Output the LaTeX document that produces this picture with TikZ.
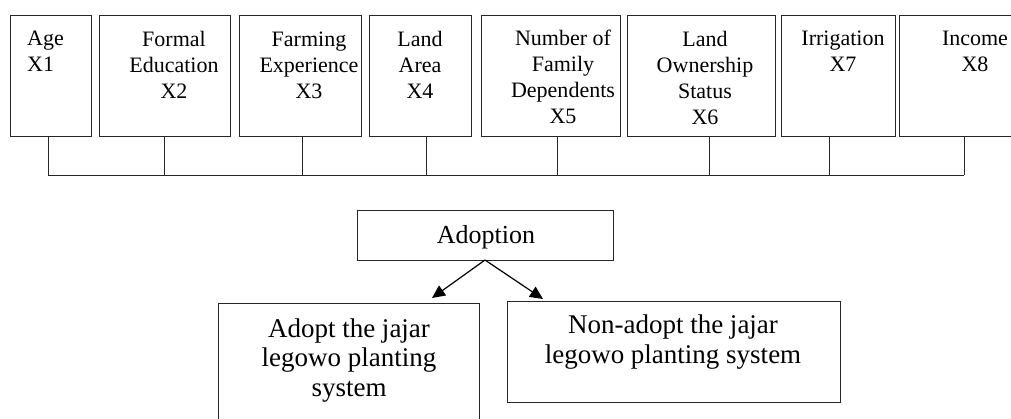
\documentclass[tikz,border=0pt]{standalone}
\usepackage{fontspec}
\setmainfont{Liberation Serif}
\usetikzlibrary{arrows.meta}
\begin{document}
\begin{tikzpicture}[x=1pt,y=-1pt,
  box/.style={draw=black!85,line width=0.9pt,minimum width=#1,inner sep=0pt,outer sep=0pt},
  lbl/.style={inner sep=0pt,anchor=base,align=center,font=\fontsize{22}{26}\selectfont},
  big/.style={inner sep=0pt,anchor=base,align=center,font=\fontsize{27}{29.5}\selectfont},
  wire/.style={draw=black!85,line width=0.9pt},
  arr/.style={draw=black,line width=1.2pt,-{Triangle[length=13pt,width=12pt]}}]
\useasboundingbox (0,0) rectangle (1011,418);
\clip (0,0) rectangle (1011,418);
% top boxes
\node[box=81,minimum height=121] (b1) at (50.5,75.5) {};
\node[box=131,minimum height=121] (b2) at (164.5,75.5) {};
\node[box=122,minimum height=121] (b3) at (300,75.5) {};
\node[box=102,minimum height=121] (b4) at (420,75.5) {};
\node[box=139,minimum height=121] (b5) at (550.5,75.5) {};
\node[box=148,minimum height=121] (b6) at (701,75.5) {};
\node[box=114,minimum height=121] (b7) at (838,75.5) {};
\node[box=126,minimum height=121] (b8) at (962,75.5) {};
% labels (anchored at the baseline of their last line)
\node[lbl,anchor=base west,align=left] (t1) at (27,71) {Age\\X1};
\node[lbl] (t2) at (174,98) {Formal\\Education\\X2};
\node[lbl] (t3) at (309,98) {Farming\\Experience\\X3};
\node[lbl] (t4) at (420,98) {Land\\Area\\X4};
\node[lbl] (t5) at (563,123) {Number of\\Family\\Dependents\\X5};
\node[lbl] (t6) at (705,124) {Land\\Ownership\\Status\\X6};
\node[lbl] (t7) at (843,71) {Irrigation\\X7};
\node[lbl] (t8) at (975,71) {Income\\X8};
% bus
\coordinate (j1) at (48,175);
\coordinate (j2) at (164,175);
\coordinate (j3) at (302,175);
\coordinate (j4) at (426,175);
\coordinate (j5) at (557,175);
\coordinate (j6) at (709,175);
\coordinate (j7) at (829,175);
\coordinate (j8) at (964,175);
\foreach \i in {1,...,8} {\draw[wire] (j\i |- b\i.south) -- (j\i);}
\draw[wire] (j1) -- (j8);
% bottom
\node[box=256,minimum height=50] (adopt) at (485,235) {};
\node[big,font=\fontsize{26}{29}\selectfont] (tadopt) at (486,243) {Adoption};
\node[box=261,minimum height=127] (yes) at (348.5,366.5) {};
\node[big] (tyes) at (349,396) {Adopt the jajar\\legowo planting\\system};
\node[box=333,minimum height=101] (no) at (673.5,351.5) {};
\node[big,font=\fontsize{27}{30}\selectfont] (tno) at (673,363) {Non-adopt the jajar\\legowo planting system};
\coordinate (aL) at (432,298);
\coordinate (aR) at (543,299);
\draw[arr] (adopt.south) -- (aL);
\draw[arr] (adopt.south) -- (aR);
\end{tikzpicture}
\end{document}
